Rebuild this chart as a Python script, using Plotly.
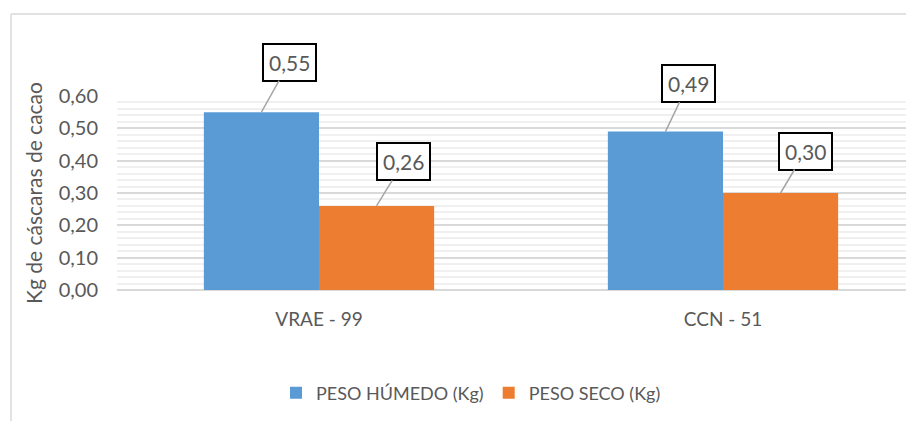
import plotly.graph_objects as go

# data
categories = ['VRAE - 99', 'CCN - 51']
peso_humedo = [0.55, 0.49]
peso_seco = [0.26, 0.30]
series_names = ['PESO HÚMEDO (Kg)', 'PESO SECO (Kg)']

# the page puts the figure 8px in from the top-left corner
PAGE = 8
W, H = 914 - PAGE, 421 - PAGE
L, R, T, B = 117 - PAGE, 0, 96 - PAGE, 131
pw, ph = W - L - R, H - T - B
bargap = 0.43
font = 'Lato'
grey = '#595959'

fig = go.Figure()
fig.add_bar(x=categories, y=peso_humedo, name=series_names[0],
            marker=dict(color='#5b9bd5', line=dict(width=0)))
fig.add_bar(x=categories, y=peso_seco, name=series_names[1],
            marker=dict(color='#ed7d31', line=dict(width=0)))

# data labels with leader lines (Excel style callouts)
off = (1 - bargap) / 4
label_offsets = [[(28, -50), (23, -48)], [(27, -44), (25, -42)]]
for s, vals in enumerate([peso_humedo, peso_seco]):
    sign = -1 if s == 0 else 1
    for i, v in enumerate(vals):
        ax, ay = label_offsets[s][i]
        fig.add_annotation(
            x=i + sign * off, y=v, xref='x', yref='y',
            text=f'{v:.2f}'.replace('.', ','),
            showarrow=True, arrowhead=0, arrowwidth=1.5, arrowcolor='#a6a6a6',
            ax=ax, ay=ay, standoff=0,
            bordercolor='#000000', borderwidth=2, borderpad=5,
            bgcolor='white', font=dict(family=font, size=21, color=grey))


# chart border (left and top edges visible in the crop), page pixels -> paper
def px_x(p):
    return (p - PAGE - L) / pw


def px_y(p):
    return (H - B - (p - PAGE)) / ph


fig.add_shape(type='line', xref='paper', yref='paper',
              x0=px_x(11), x1=px_x(11), y0=px_y(14), y1=px_y(421),
              line=dict(color='#d9d9d9', width=1.5))
fig.add_shape(type='line', xref='paper', yref='paper',
              x0=px_x(11), x1=px_x(914), y0=px_y(14), y1=px_y(14),
              line=dict(color='#d9d9d9', width=1.5))

fig.update_layout(
    width=W, height=H,
    margin=dict(l=L, r=R, t=T, b=B),
    paper_bgcolor='white', plot_bgcolor='white',
    separators=',.',
    barmode='group', bargap=bargap, bargroupgap=0,
    font=dict(family=font, color=grey),
    showlegend=True,
    legend=dict(orientation='h', x=px_x(471), y=px_y(393),
                xanchor='center', yanchor='middle',
                font=dict(family=font, size=18, color=grey),
                itemwidth=30, traceorder='normal'),
)
fig.update_xaxes(range=[-0.5, 1.5 - 11 / 404], showgrid=False,
                 showline=False, zeroline=False, ticks='',
                 tickfont=dict(family=font, size=19, color=grey),
                 ticklabelstandoff=16)
fig.update_yaxes(range=[0, 0.6], dtick=0.1, tickformat='.2f',
                 showgrid=True, gridcolor='#d9d9d9', gridwidth=1.5,
                 zeroline=True, zerolinecolor='#d9d9d9', zerolinewidth=1.5,
                 minor=dict(dtick=0.02, showgrid=True, gridcolor='#f0f0f0',
                            gridwidth=1.5),
                 tickfont=dict(family=font, size=20, color=grey),
                 ticklabelstandoff=18,
                 title=dict(text='Kg de cáscaras de cacao', standoff=10,
                            font=dict(family=font, size=21, color=grey)))

fig.write_html("out.html")
